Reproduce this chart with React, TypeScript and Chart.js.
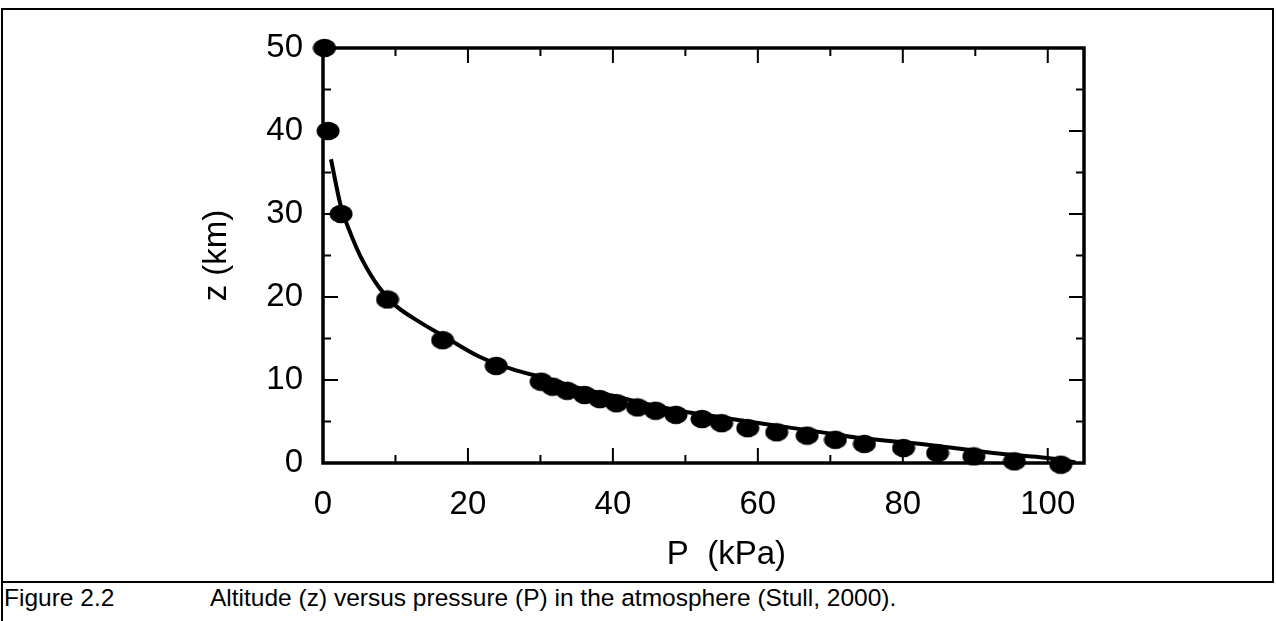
import React, { useEffect, useRef } from 'react';
import { Chart, registerables } from 'chart.js';

Chart.register(...registerables);

// Observed points (pressure in kPa, altitude in km)
const pressureObs = [0.2, 0.7, 2.5, 8.9, 16.5, 23.9, 30.1, 31.7, 33.7, 36.1, 38.2, 40.5, 43.4, 45.9, 48.7, 52.3, 55.0, 58.6, 62.6, 66.8, 70.7, 74.7, 80.1, 84.8, 89.8, 95.4, 101.8];
const altitudeObs = [50, 40, 30, 19.7, 14.8, 11.7, 9.8, 9.2, 8.7, 8.2, 7.7, 7.2, 6.7, 6.3, 5.8, 5.3, 4.8, 4.2, 3.7, 3.3, 2.8, 2.3, 1.8, 1.2, 0.8, 0.2, -0.2];

// Fitted curve
const pressureCurve = [1.1, 2.5, 3.6, 5.4, 7.7, 10.1, 13.3, 17.0, 21.6, 26.1, 30.8, 35.4, 40.0, 44.7, 49.2, 55.7, 60.3, 64.9, 69.6, 74.1, 83.4, 92.5, 100, 103.8];
const altitudeCurve = [36.6, 30.8, 28.1, 24.5, 21.2, 18.9, 17.0, 15.1, 12.8, 11.3, 10.2, 9.0, 8.1, 7.1, 6.3, 5.4, 4.8, 4.2, 3.6, 3.0, 2.2, 1.2, 0.6, 0.1];

const xTickLabels = [0, 20, 40, 60, 80, 100];
const xMinorTicks = [10, 30, 50, 70, 90];
const yTickLabels = [0, 10, 20, 30, 40, 50];
const yMinorTicks = [5, 15, 25, 35, 45];

const xTitle = '     P  (kPa)';
const yTitle = 'z (km)';
const captionLabel = 'Figure 2.2';
const captionText = 'Altitude (z) versus pressure (P) in the atmosphere (Stull, 2000).';

const FONT = "'Liberation Sans', Arial, Helvetica, sans-serif";

function makeEllipse(): HTMLCanvasElement {
  const c = document.createElement('canvas');
  c.width = 24;
  c.height = 20;
  const g = c.getContext('2d')!;
  g.fillStyle = '#000';
  g.beginPath();
  g.ellipse(12, 10, 11.5, 9.2, 0, 0, Math.PI * 2);
  g.fill();
  return c;
}

const framePlugin = {
  id: 'frameTicks',
  beforeDatasetsDraw(chart: any) {
    const { ctx, chartArea: a, scales } = chart;
    const x = scales.x;
    const y = scales.y;
    const major = 15;
    const minor = 8;
    ctx.save();
    ctx.strokeStyle = '#000';
    ctx.lineWidth = 2;
    const vTick = (v: number, len: number) => {
      const px = x.getPixelForValue(v);
      ctx.beginPath();
      ctx.moveTo(px, a.bottom);
      ctx.lineTo(px, a.bottom - len);
      ctx.moveTo(px, a.top);
      ctx.lineTo(px, a.top + len);
      ctx.stroke();
    };
    const hTick = (v: number, len: number) => {
      const py = y.getPixelForValue(v);
      ctx.beginPath();
      ctx.moveTo(a.left, py);
      ctx.lineTo(a.left + len, py);
      ctx.moveTo(a.right, py);
      ctx.lineTo(a.right - len, py);
      ctx.stroke();
    };
    xTickLabels.forEach((v) => vTick(v, major));
    xMinorTicks.forEach((v) => vTick(v, minor));
    yTickLabels.forEach((v) => hTick(v, major));
    yMinorTicks.forEach((v) => hTick(v, minor));
    ctx.lineWidth = 3.5;
    ctx.strokeRect(a.left, a.top, a.right - a.left, a.bottom - a.top);
    ctx.restore();
  },
};

export default function App() {
  const canvasRef = useRef<HTMLCanvasElement | null>(null);

  useEffect(() => {
    document.body.style.margin = '0';
    const canvas = canvasRef.current;
    if (!canvas) return;
    const ellipse = makeEllipse();
    const chart = new Chart(canvas, {
      type: 'scatter',
      data: {
        datasets: [
          {
            label: 'observed',
            data: pressureObs.map((p, i) => ({ x: p, y: altitudeObs[i] })),
            pointStyle: ellipse as any,
            pointRadius: 10,
            backgroundColor: '#000',
            borderColor: '#000',
            showLine: false,
            clip: false as any,
          },
          {
            label: 'curve',
            data: pressureCurve.map((p, i) => ({ x: p, y: altitudeCurve[i] })),
            showLine: true,
            pointRadius: 0,
            borderColor: '#000',
            borderWidth: 4,
            tension: 0.35,
            fill: false,
            clip: false as any,
          },
        ],
      },
      options: {
        responsive: false,
        animation: false,
        devicePixelRatio: 1,
        layout: { padding: { left: 0, right: 192, top: 48, bottom: 0 } },
        plugins: {
          legend: { display: false },
          tooltip: { enabled: false },
        },
        scales: {
          x: {
            type: 'linear',
            min: 0,
            max: 105,
            grid: { display: false, drawTicks: false },
            border: { display: false },
            afterBuildTicks: (s: any) => {
              s.ticks = xTickLabels.map((v) => ({ value: v }));
            },
            afterFit: (s: any) => {
              s.height = 117;
            },
            ticks: {
              color: '#000',
              padding: 22,
              maxRotation: 0,
              font: { family: FONT, size: 33 },
            },
            title: {
              display: true,
              text: xTitle,
              color: '#000',
              font: { family: FONT, size: 33 },
              padding: { top: 0, bottom: 5 },
            },
          },
          y: {
            type: 'linear',
            min: 0,
            max: 50,
            grid: { display: false, drawTicks: false },
            border: { display: false },
            afterBuildTicks: (s: any) => {
              s.ticks = yTickLabels.map((v) => ({ value: v }));
            },
            afterFit: (s: any) => {
              s.width = 323;
            },
            ticks: {
              color: '#000',
              padding: 20,
              font: { family: FONT, size: 33 },
            },
            title: {
              display: true,
              text: yTitle,
              color: '#000',
              font: { family: FONT, size: 33 },
              padding: { top: 197, bottom: 0 },
            },
          },
        },
      },
      plugins: [framePlugin],
    });
    return () => chart.destroy();
  }, []);

  return (
    <div style={{ position: 'relative', width: 1276, height: 621, background: '#fff', overflow: 'hidden' }}>
      <div
        style={{
          position: 'absolute',
          left: 1,
          top: 8,
          width: 1271,
          height: 571,
          borderTop: '2px solid #000',
          borderRight: '2px solid #000',
          borderBottom: '2px solid #000',
        }}
      />
      <div style={{ position: 'absolute', left: 1, top: 8, width: 2, height: 613, background: '#000' }} />
      <canvas ref={canvasRef} width={1276} height={580} style={{ position: 'absolute', left: 0, top: 0, width: 1276, height: 580 }} />
      <div
        style={{
          position: 'absolute',
          left: 4,
          top: 582,
          fontFamily: FONT,
          fontSize: 24.5,
          lineHeight: '32px',
          color: '#000',
          whiteSpace: 'pre',
        }}
      >
        <span style={{ display: 'inline-block', width: 206 }}>{captionLabel}</span>
        <span>{captionText}</span>
      </div>
    </div>
  );
}
